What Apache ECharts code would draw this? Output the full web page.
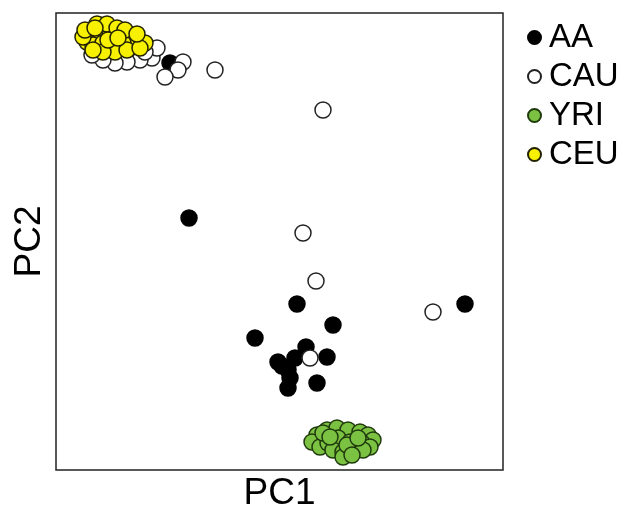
<!DOCTYPE html>
<html>
<head>
<meta charset="utf-8">
<script src="https://cdn.jsdelivr.net/npm/echarts@6/dist/echarts.min.js"></script>
<style>html,body{margin:0;padding:0;background:#fff}#c{width:630px;height:510px}</style>
</head>
<body>
<div id="c"></div>
<script>
const seriesNames = ['AA', 'CAU', 'YRI', 'CEU'];
const AA = [[-0.091,0.022],[0.185,-0.064],[0.017,-0.064],[0.053,-0.085],[-0.025,-0.098],[0.026,-0.107],[0.047,-0.117],[-0.002,-0.122],[0.015,-0.118],[0.008,-0.130],[0.010,-0.138],[0.037,-0.143],[0.008,-0.148],[0.002,-0.126],[-0.110,0.177]];
const CAU = [[-0.065,0.170],[0.043,0.130],[0.023,0.007],[0.036,-0.041],[0.153,-0.072],[0.030,-0.118],[-0.097,0.178],[-0.102,0.170],[-0.115,0.163],[-0.128,0.182],[-0.140,0.180],[-0.153,0.178],[-0.165,0.177],[-0.177,0.180],[-0.123,0.192],[-0.135,0.188],[-0.188,0.185]];
const YRI = [[0.037,-0.195],[0.047,-0.190],[0.057,-0.188],[0.068,-0.190],[0.080,-0.192],[0.088,-0.195],[0.093,-0.200],[0.032,-0.202],[0.040,-0.207],[0.048,-0.203],[0.058,-0.198],[0.070,-0.202],[0.082,-0.203],[0.090,-0.207],[0.053,-0.210],[0.063,-0.212],[0.075,-0.210],[0.063,-0.217],[0.083,-0.210],[0.043,-0.193],[0.067,-0.205],[0.078,-0.198],[0.050,-0.197],[0.072,-0.215]];
const CEU = [[-0.180,0.215],[-0.170,0.211],[-0.190,0.205],[-0.180,0.208],[-0.170,0.205],[-0.160,0.208],[-0.150,0.203],[-0.135,0.197],[-0.147,0.200],[-0.193,0.198],[-0.187,0.195],[-0.177,0.197],[-0.167,0.195],[-0.157,0.197],[-0.165,0.188],[-0.177,0.188],[-0.187,0.190],[-0.153,0.190],[-0.183,0.216],[-0.173,0.216],[-0.163,0.212],[-0.155,0.210],[-0.197,0.203],[-0.195,0.210],[-0.140,0.192],[-0.172,0.200],[-0.162,0.202],[-0.185,0.212],[-0.143,0.206]];
const dataSets = [AA, CAU, YRI, CEU];
const fills = ['#000000', '#ffffff', '#7cc242', '#f7f000'];
const borders = ['#000000', '#222222', '#1f3a0c', '#222200'];

const chart = echarts.init(document.getElementById('c'), null, {renderer: 'canvas'});
const font = 'Liberation Sans, Arial, sans-serif';
chart.setOption({
  animation: false,
  backgroundColor: '#ffffff',
  grid: {left: 56, top: 13, right: 127, bottom: 40, show: true, borderColor: '#222', borderWidth: 1.5,
    backgroundColor: 'transparent', containLabel: false, outerBoundsMode: 'none'},
  xAxis: {type: 'value', min: -0.224, max: 0.223, name: 'PC1', nameLocation: 'middle', nameGap: 5,
    nameTextStyle: {fontSize: 37, color: '#000', fontFamily: font},
    axisLine: {show: false}, axisTick: {show: false}, axisLabel: {show: false}, splitLine: {show: false}},
  yAxis: {type: 'value', min: -0.230, max: 0.227, name: 'PC2', nameLocation: 'middle', nameGap: 8,
    nameTextStyle: {fontSize: 37, color: '#000', fontFamily: font},
    axisLine: {show: false}, axisTick: {show: false}, axisLabel: {show: false}, splitLine: {show: false}},
  legend: {orient: 'vertical', left: 522, top: 16, itemGap: 6, itemWidth: 13, itemHeight: 13, icon: 'circle',
    textStyle: {fontSize: 33, color: '#000', fontFamily: font, padding: [0,0,0,3]},
    data: seriesNames},
  series: seriesNames.map((n, i) => ({
    name: n, type: 'scatter', data: dataSets[i], symbol: 'circle', symbolSize: 16,
    itemStyle: {color: fills[i], borderColor: borders[i], borderWidth: 1.5, opacity: 1}
  }))
});
</script>
</body>
</html>
